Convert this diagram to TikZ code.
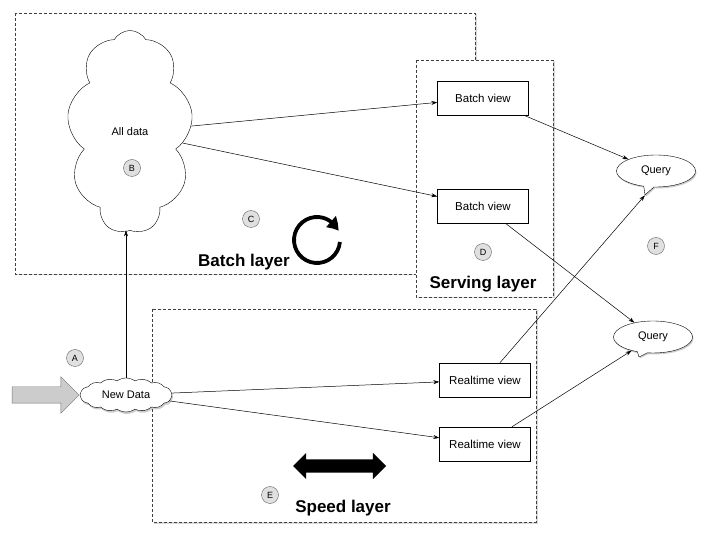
\documentclass[tikz,border=0pt]{standalone}
\usepackage{fontspec}
\setmainfont{Liberation Sans}
\usetikzlibrary{shapes.symbols,shapes.callouts,shapes.arrows,shadows,arrows.meta,bending}

\begin{document}
\begin{tikzpicture}[x=1pt,y=1pt,
  layer/.style={draw=black!75,densely dashed,fill=white,
    drop shadow={opacity=0.3,shadow xshift=1.5pt,shadow yshift=-1.5pt}},
  view/.style={draw,fill=white,minimum width=91pt,minimum height=34pt,
    font=\fontsize{11.5}{13}\selectfont},
  query/.style={ellipse callout,draw,fill=white,minimum width=79pt,
    minimum height=32pt,callout absolute pointer={#1},
    font=\fontsize{11}{13}\selectfont,
    drop shadow={opacity=0.4,shadow xshift=1pt,shadow yshift=-1.5pt}},
  tag/.style={circle,draw=black!60,fill=black!12,minimum size=17pt,
    inner sep=0pt,font=\fontsize{9}{10}\selectfont},
  title/.style={font=\fontsize{17}{20}\selectfont\bfseries},
  link/.style={-{Stealth[length=6pt,width=4pt]},line width=0.5pt}]
  \useasboundingbox (0,0) rectangle (707,533);

  \draw[layer] (15,520) rectangle (475,259);
  \draw[layer] (416,473) rectangle (553,236);
  \draw[layer] (152,224) rectangle (536,11);

  \node[cloud,draw,fill=white,cloud puffs=9,cloud puff arc=120,
    cloud ignores aspect,minimum width=126pt,minimum height=203pt,
    font=\fontsize{11}{13}\selectfont] (alldata) at (130,401) {All data};
  \node[cloud,draw,fill=white,cloud puffs=16,cloud puff arc=70,
    cloud ignores aspect,minimum width=92pt,minimum height=34pt,
    inner sep=0pt,font=\fontsize{11}{13}\selectfont,
    drop shadow={opacity=0.4,shadow xshift=1pt,shadow yshift=-2pt}]
    (newdata) at (126,138) {New Data};
  \node[single arrow,draw=black!55,fill=black!20,minimum height=67pt,
    inner xsep=0pt,inner ysep=8pt,single arrow head extend=10pt]
    (feed) at (41.5,138) {};

  \node[view] (batch1) at (483,435) {Batch view};
  \node[view] (batch2) at (483,327) {Batch view};
  \node[view] (real1) at (485,153) {Realtime view};
  \node[view] (real2) at (485,89) {Realtime view};
  \node[query={(645,338)}] (query1) at (656,362) {Query};
  \node[query={(639,176)}] (query2) at (653,196) {Query};

  \node[tag] (tagA) at (75,175) {A};
  \node[tag] (tagB) at (132,365) {B};
  \node[tag] (tagC) at (251,314) {C};
  \node[tag] (tagD) at (483,281) {D};
  \node[tag] (tagE) at (270,38) {E};
  \node[tag] (tagF) at (656,287) {F};

  \node[title] (batchtitle) at (244,271) {Batch layer};
  \node[title] (servingtitle) at (483,249) {Serving layer};
  \node[title] (speedtitle) at (343,25) {Speed layer};

  \coordinate (loop) at (317,293);
  \draw[line width=3.8pt,-{Triangle[length=12pt,width=14pt,bend]}]
    ([shift={(-5:23pt)}]loop) arc[start angle=-5,end angle=-337,radius=23pt];
  \node[double arrow,fill=black,minimum height=93pt,inner xsep=0pt,
    inner ysep=6.5pt,double arrow head extend=6.5pt] (both) at (339.5,67) {};

  \draw[link] (newdata.north) -- (newdata.north |- alldata.south);
  \draw[link] (alldata) -- (batch1);
  \draw[link] (alldata) -- (batch2);
  \draw[link] (batch1) -- (query1);
  \draw[link] (batch2) -- (query2);
  \draw[link] (newdata) -- (real1);
  \draw[link] (newdata) -- (real2);
  \draw[link] (real1) -- (query1.pointer);
  \draw[link] (real2) -- (query2);
\end{tikzpicture}
\end{document}
